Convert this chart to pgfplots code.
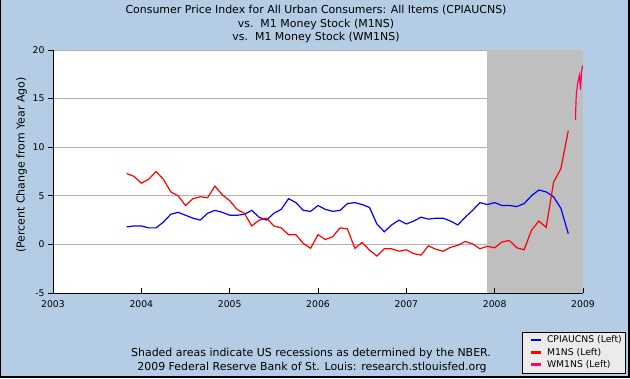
\documentclass[border=0pt]{standalone}
\usepackage{pgfplots}
\usepackage{pgfplotstable}
\pgfplotsset{compat=1.18}
\usepackage{fontspec}
\setmainfont{DejaVu Sans}
\definecolor{bgblue}{RGB}{180,204,228}
\definecolor{shadec}{RGB}{191,191,191}
\definecolor{gridc}{RGB}{176,176,176}
\definecolor{legbg}{RGB}{235,235,235}
\definecolor{wpink}{RGB}{255,0,102}
\definecolor{cblue}{RGB}{0,0,255}
\definecolor{cred}{RGB}{255,0,0}

\pgfplotstableread{
x y
2003.8333 1.8
2003.9167 1.9
2004.0000 1.9
2004.0833 1.7
2004.1667 1.7
2004.2500 2.3
2004.3333 3.1
2004.4167 3.3
2004.5000 3.0
2004.5833 2.7
2004.6667 2.5
2004.7500 3.2
2004.8333 3.5
2004.9167 3.3
2005.0000 3.0
2005.0833 3.0
2005.1667 3.1
2005.2500 3.5
2005.3333 2.8
2005.4167 2.5
2005.5000 3.2
2005.5833 3.6
2005.6667 4.7
2005.7500 4.3
2005.8333 3.5
2005.9167 3.4
2006.0000 4.0
2006.0833 3.6
2006.1667 3.4
2006.2500 3.5
2006.3333 4.2
2006.4167 4.3
2006.5000 4.1
2006.5833 3.8
2006.6667 2.1
2006.7500 1.3
2006.8333 2.0
2006.9167 2.5
2007.0000 2.1
2007.0833 2.4
2007.1667 2.8
2007.2500 2.6
2007.3333 2.7
2007.4167 2.7
2007.5000 2.4
2007.5833 2.0
2007.6667 2.8
2007.7500 3.5
2007.8333 4.3
2007.9167 4.1
2008.0000 4.3
2008.0833 4.0
2008.1667 4.0
2008.2500 3.9
2008.3333 4.2
2008.4167 5.0
2008.5000 5.6
2008.5833 5.4
2008.6667 4.9
2008.7500 3.7
2008.8333 1.1
}\cpitable

\pgfplotstableread{
x y
2003.8333 7.3
2003.9167 7.0
2004.0000 6.3
2004.0833 6.7
2004.1667 7.5
2004.2500 6.7
2004.3333 5.4
2004.4167 5.0
2004.5000 4.0
2004.5833 4.7
2004.6667 4.9
2004.7500 4.8
2004.8333 6.0
2004.9167 5.1
2005.0000 4.5
2005.0833 3.6
2005.1667 3.2
2005.2500 1.9
2005.3333 2.5
2005.4167 2.7
2005.5000 1.9
2005.5833 1.7
2005.6667 1.0
2005.7500 1.0
2005.8333 0.1
2005.9167 -0.4
2006.0000 1.0
2006.0833 0.5
2006.1667 0.8
2006.2500 1.7
2006.3333 1.6
2006.4167 -0.4
2006.5000 0.2
2006.5833 -0.6
2006.6667 -1.2
2006.7500 -0.45
2006.8333 -0.45
2006.9167 -0.7
2007.0000 -0.55
2007.0833 -0.95
2007.1667 -1.1
2007.2500 -0.15
2007.3333 -0.5
2007.4167 -0.7
2007.5000 -0.3
2007.5833 -0.1
2007.6667 0.3
2007.7500 0.05
2007.8333 -0.45
2007.9167 -0.2
2008.0000 -0.35
2008.0833 0.25
2008.1667 0.4
2008.2500 -0.35
2008.3333 -0.55
2008.4167 1.45
2008.5000 2.4
2008.5833 1.75
2008.6667 6.4
2008.7500 7.8
2008.8333 11.7
}\mtable

\pgfplotstableread{
x y
2008.914 12.8
2008.923 15.3
2008.938 16.5
2008.949 17.0
2008.960 17.4
2008.972 15.9
2008.983 17.7
2008.994 18.4
}\wtable

\begin{document}
\begin{tikzpicture}[x=1bp,y=1bp]
\useasboundingbox (0,0) rectangle (630,378);
\fill[bgblue] (0,0) rectangle (630,378);
\fill[black] (0,0) rectangle (1,378);
\fill[black] (0,0) rectangle (630,2);
\fill[black] (628,0) rectangle (630,378);

\begin{axis}[
  at={(53bp,85bp)}, anchor=south west,
  scale only axis, width=530bp, height=243bp,
  xmin=2003, xmax=2009, ymin=-5, ymax=20,
  axis x line*=bottom, axis y line*=left,
  axis line style={-, line width=1bp, black},
  axis on top,
  axis background/.style={fill=white},
  tick align=outside, major tick length=5bp,
  every tick/.style={black, line width=1bp},
  xtick style={yshift=5bp},
  xtick={2003,2004,2005,2006,2007,2008,2009},
  xticklabels={2003,2004,2005,2006,2007,2008,2009},
  ytick={-5,0,5,10,15,20},
  yticklabels={-5,0,5,10,15,20},
  tick label style={font=\fontsize{9.3}{10}\selectfont},
  x tick label style={yshift=1bp},
  legend style={at={(1.0806,-0.3305)}, anchor=south east, draw=black,
    line width=0.8bp, fill=legbg, font=\fontsize{9.3}{10}\selectfont,
    inner xsep=2bp, inner ysep=2.5bp, row sep=0.7bp,
    nodes={inner sep=1.5bp},
    cells={anchor=west},
    /tikz/every odd column/.append style={column sep=3.5bp}},
  legend image code/.code={\path (0bp,0bp); \draw[#1, line width=2.5bp] (6bp,0bp) -- (16bp,0bp);},
]
\fill[shadec] (axis cs:2007.9167,-5) rectangle (axis cs:2009,20);
\draw[gridc, line width=1bp] (axis cs:2003,0) -- (axis cs:2007.9167,0);
\draw[gridc, line width=1bp] (axis cs:2003,5) -- (axis cs:2007.9167,5);
\draw[gridc, line width=1bp] (axis cs:2003,10) -- (axis cs:2007.9167,10);
\draw[gridc, line width=1bp] (axis cs:2003,15) -- (axis cs:2007.9167,15);
\draw[gridc, line width=1bp] (axis cs:2003,20) -- (axis cs:2007.9167,20);
\addplot[cblue, line width=1.2bp] table {\cpitable};
\addlegendentry{CPIAUCNS (Left)}
\addplot[cred, line width=1.2bp] table {\mtable};
\addlegendentry{M1NS (Left)}
\addplot[wpink, line width=1.2bp] table {\wtable};
\addlegendentry{WM1NS (Left)}
\end{axis}

\node[rotate=90, font=\fontsize{11}{13}\selectfont] at (21.7,213) {(Percent Change from Year Ago)};
\node[anchor=base, font=\fontsize{11}{13}\selectfont] at (316,364.7) {Consumer Price Index for All Urban Consumers: All Items (CPIAUCNS)};
\node[anchor=base, font=\fontsize{11}{13}\selectfont] at (316,350.7) {vs.\ \ M1 Money Stock (M1NS)};
\node[anchor=base, font=\fontsize{11}{13}\selectfont] at (316,337.3) {vs.\ \ M1 Money Stock (WM1NS)};
\node[anchor=base, font=\fontsize{11}{13}\selectfont] at (311,21.3) {Shaded areas indicate US recessions as determined by the NBER.};
\node[anchor=base, font=\fontsize{11}{13}\selectfont] at (312,8) {2009 Federal Reserve Bank of St. Louis: research.stlouisfed.org};
\end{tikzpicture}
\end{document}
